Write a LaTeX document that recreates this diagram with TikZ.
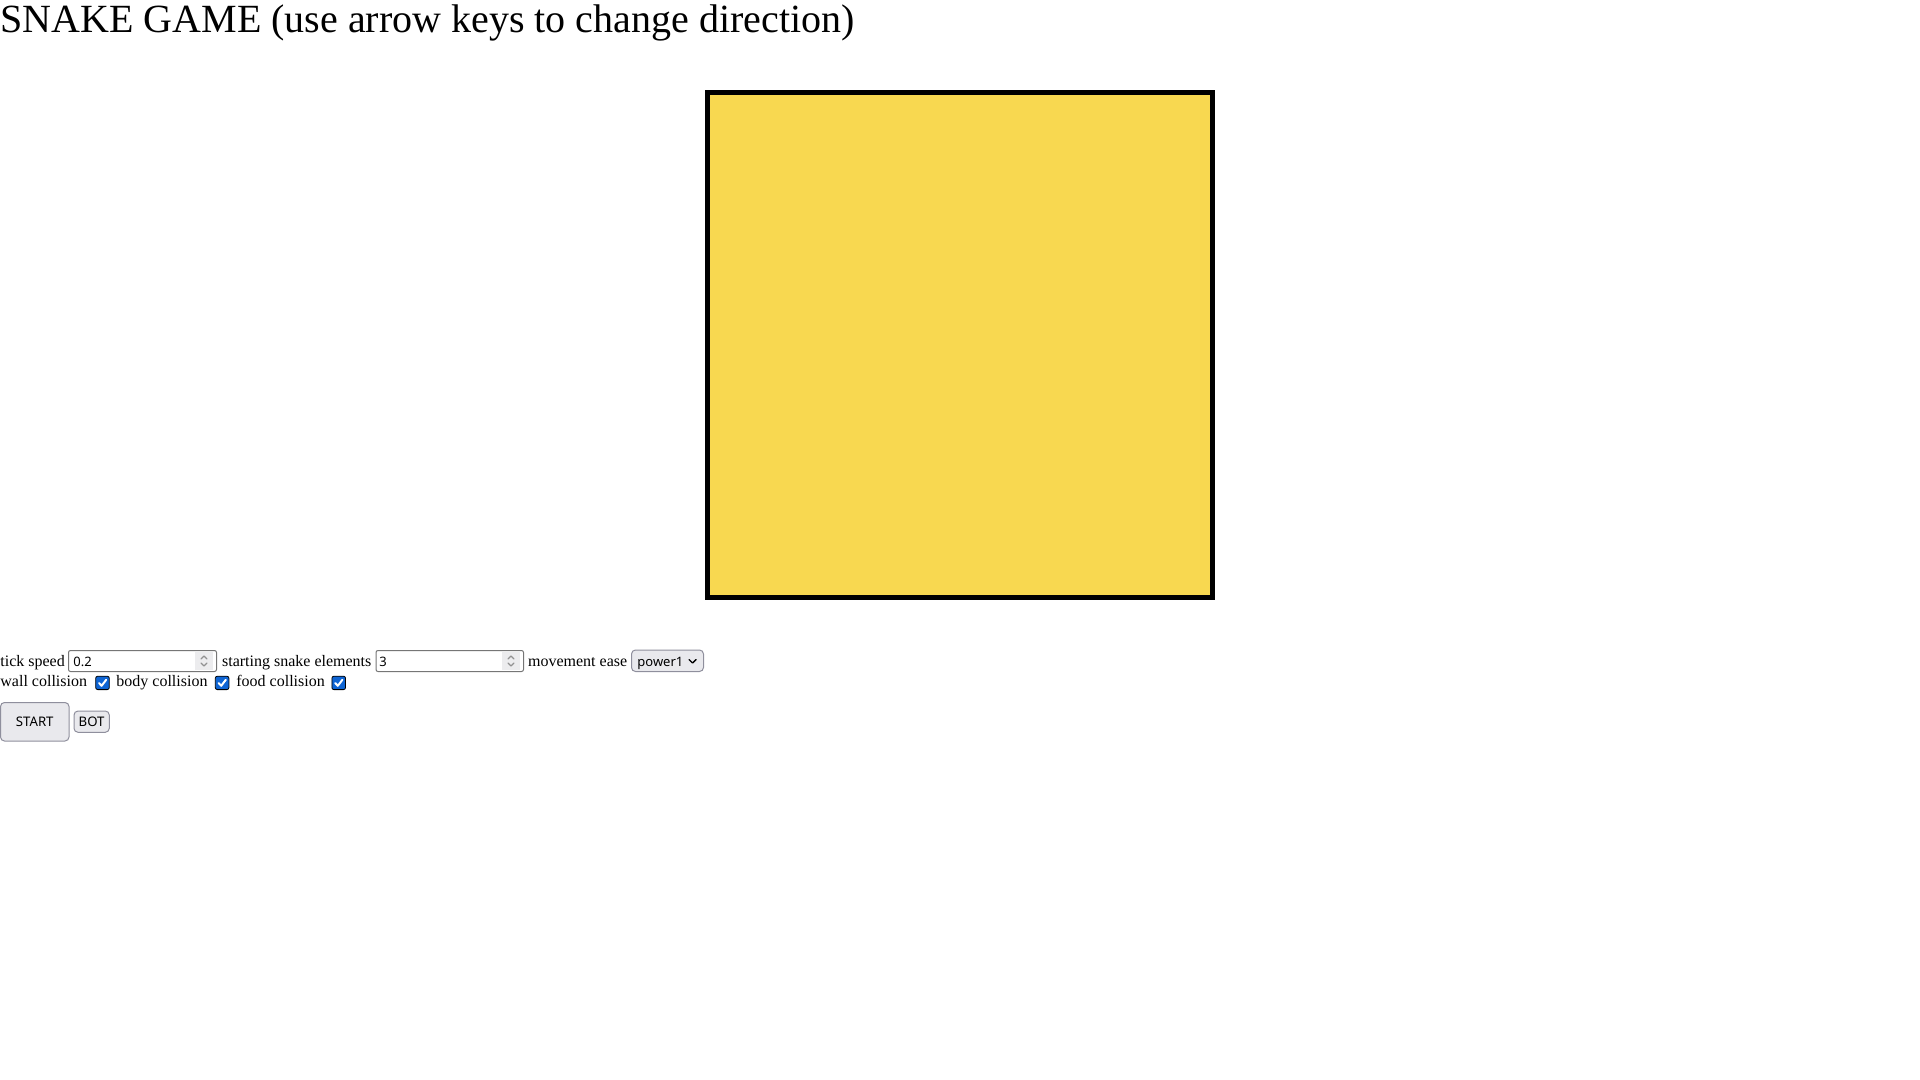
\documentclass[tikz,border=0pt]{standalone}
\usepackage{fontspec}
\setmainfont{Liberation Serif}
\newfontfamily\uifont{Noto Sans}
\usepackage{tikz}
\definecolor{boardyellow}{RGB}{248,216,80}
\definecolor{fieldgrey}{RGB}{118,118,118}
\definecolor{btnfill}{RGB}{233,233,237}
\definecolor{btnline}{RGB}{143,143,157}
\definecolor{spinfill}{RGB}{236,236,238}
\definecolor{checkblue}{RGB}{15,101,212}

\begin{document}
\begin{tikzpicture}[x=0.5pt,y=-0.5pt,
  caption/.style={anchor=base west,inner sep=0pt,font=\fontsize{8pt}{9.6pt}\selectfont},
  uitext/.style={anchor=base west,inner sep=0pt,font=\uifont\fontsize{6.5pt}{8pt}\selectfont},
  field/.style={draw=fieldgrey,line width=0.5pt,fill=white,rounded corners=1pt},
  spinner/.style={fill=spinfill},
  chevron/.style={draw=fieldgrey!80,line width=0.6pt,line cap=round,line join=round},
  chkbox/.style={fill=checkblue,rounded corners=1pt},
  tickmark/.style={draw=white,line width=1pt,line cap=round,line join=round},
  button/.style={draw=btnline,line width=0.5pt,fill=btnfill,rounded corners=2pt}]
\useasboundingbox (0,0) rectangle (1920,1080);

% Text Node
\draw (0,33) node [anchor=base west][inner sep=0pt][font=\fontsize{20pt}{24pt}\selectfont] (title) {SNAKE GAME (use arrow keys to change direction)};

%Shape: Rectangle [board]
\draw [line width=2.5pt][fill=boardyellow] (707.5,92.5) rectangle (1212.5,597.5);
\coordinate (board) at (960,345);

% first row: tick speed, starting snake elements, movement ease
\draw (0,666) node [caption] (speedlbl) {tick speed};
\draw [field] (68.5,650.5) rectangle (216.5,671.5);
\fill [spinner] (195,652) rectangle (213,670);
\draw [chevron] (201,659) -- (204,656) -- (207,659);
\draw [chevron] (201,663) -- (204,666) -- (207,663);
\draw (73,666) node [uitext] (speedval) {0.2};

\draw (221.7,666) node [caption] (countlbl) {starting snake elements};
\draw [field] (376,650.5) rectangle (523.5,671.5);
\fill [spinner] (502,652) rectangle (520,670);
\draw [chevron] (508,659) -- (511,656) -- (514,659);
\draw [chevron] (508,663) -- (511,666) -- (514,663);
\draw (379,666) node [uitext] (countval) {3};

\draw (527.7,666) node [caption] (easelbl) {movement ease};
\draw [button] (631.5,650) rectangle (703.5,671.5);
\draw (637,666) node [uitext] (easeval) {power1};
\draw [line width=0.7pt][line cap=round][line join=round] (689,659.5) -- (692.5,663) -- (696,659.5);

% second row: collision checkboxes
\draw (0,686.7) node [caption] (walllbl) {wall collision};
\draw [chkbox] (95.7,676.2) rectangle (109.3,689.6);
\draw [tickmark] (99,683) -- (101.6,685.8) -- (106.2,679.8);

\draw (116,686.7) node [caption] (bodylbl) {body collision};
\draw [chkbox] (215.3,676.2) rectangle (228.9,689.6);
\draw [tickmark] (218.6,683) -- (221.2,685.8) -- (225.8,679.8);

\draw (236,686.7) node [caption] (foodlbl) {food collision};
\draw [chkbox] (331.9,676.2) rectangle (345.5,689.6);
\draw [tickmark] (335.2,683) -- (337.8,685.8) -- (342.4,679.8);

% third row: buttons
\draw [button] (0.5,702.5) rectangle (69,741);
\draw (34.75,721.75) node [inner sep=0pt][font=\uifont\fontsize{6.6pt}{8pt}\selectfont] (start) {START};
\draw [button] (74,711) rectangle (109.3,732.3);
\draw (91.65,721.65) node [inner sep=0pt][font=\uifont\fontsize{6.6pt}{8pt}\selectfont] (bot) {BOT};
\end{tikzpicture}
\end{document}
